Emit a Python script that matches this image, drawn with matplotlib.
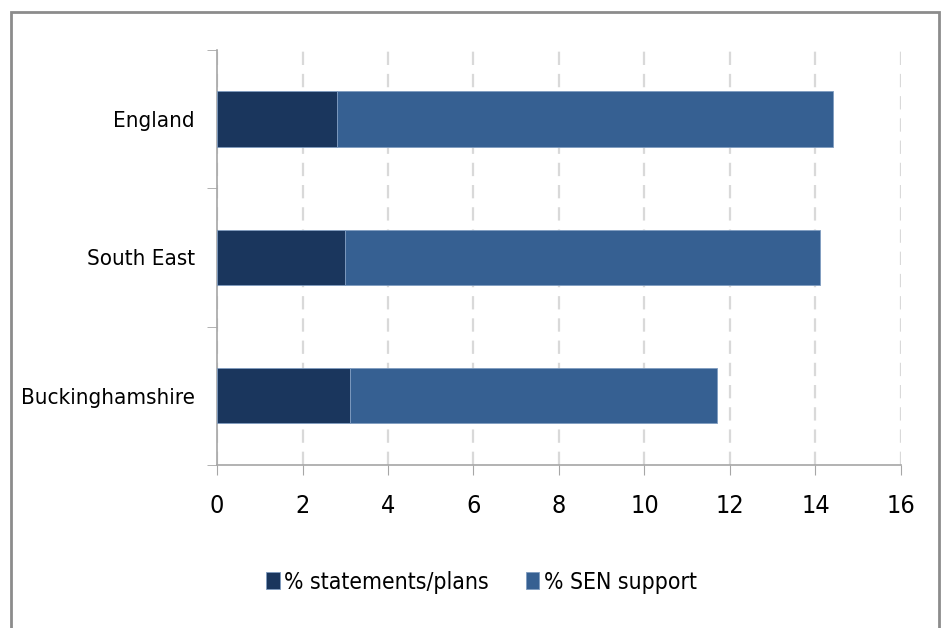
import matplotlib.pyplot as plt
from matplotlib.patches import Rectangle

areas = ["England", "South East", "Buckinghamshire"]
statements_plans = [2.8, 3.0, 3.1]
sen_support = [11.6, 11.1, 8.6]
series_labels = ["% statements/plans", "% SEN support"]
x_ticks = [0, 2, 4, 6, 8, 10, 12, 14, 16]

plt.rcParams['font.family'] = ['DejaVu Sans']
plt.rcParams['font.stretch'] = 'condensed'

fig = plt.figure(figsize=(9.44, 6.28), dpi=100)
ax = fig.add_axes([0.2299, 0.2596, 0.7245, 0.6608])

# outer frame around the whole chart
fig.patches.append(Rectangle((11 / 944, -0.05), 928 / 944, 1.05 - 12 / 628,
                             transform=fig.transFigure, fill=False,
                             edgecolor="#8c8c8c", linewidth=2))

ypos = range(len(areas))
ax.barh(ypos, statements_plans, height=0.4, color="#1a365d",
        edgecolor="#7f9cc0", linewidth=0.6, label=series_labels[0], zorder=3)
ax.barh(ypos, sen_support, left=statements_plans, height=0.4, color="#366092",
        edgecolor="#7f9cc0", linewidth=0.6, label=series_labels[1], zorder=3)

ax.set_ylim(2.5, -0.5)
ax.set_xlim(0, 16)
ax.set_xticks(x_ticks)
ax.set_yticks(ypos)
ax.set_yticklabels(areas)
ax.set_yticks([-0.5, 0.5, 1.5, 2.5], minor=True)

ax.xaxis.grid(True, linestyle=(0, (6, 4)), color="#d9d9d9", linewidth=1.6, zorder=0)
for s in ["top", "right"]:
    ax.spines[s].set_visible(False)
for s in ["left", "bottom"]:
    ax.spines[s].set_color("#a6a6a6")
    ax.spines[s].set_linewidth(1.2)

ax.tick_params(axis="x", length=7, color="#a6a6a6", labelsize=18, pad=14)
ax.tick_params(axis="y", which="major", length=0, labelsize=16, pad=16)
ax.tick_params(axis="y", which="minor", length=7, color="#a6a6a6")

fig.legend(loc="center", bbox_to_anchor=(0.51, 0.073), ncol=2, frameon=False,
           fontsize=16.5, handlelength=0.6, handleheight=0.8, handletextpad=0.2,
           columnspacing=1.6)

fig.savefig("out.png", dpi=100)
